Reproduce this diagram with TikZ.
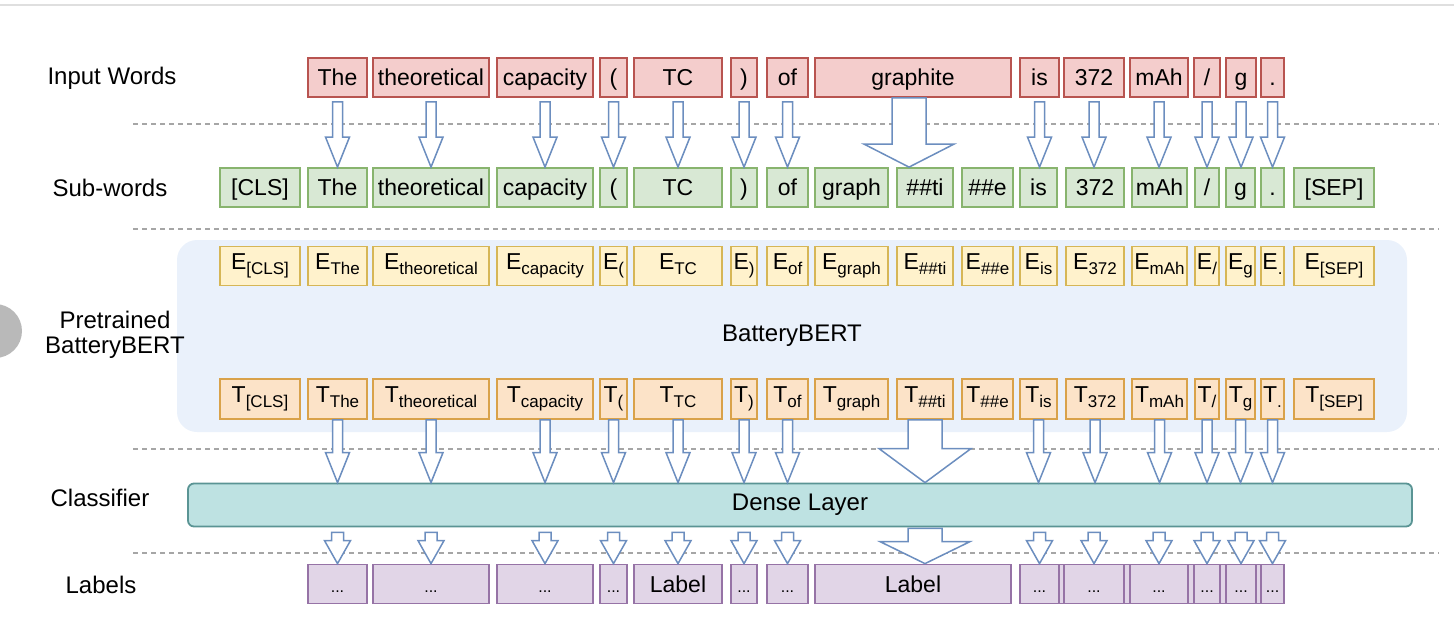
\documentclass[tikz,border=0pt]{standalone}
\usepackage{fontspec}
\setmainfont{Liberation Sans}
\usetikzlibrary{calc}
\usepackage{xcolor}

\definecolor{redfill}{HTML}{F4CDCC}
\definecolor{redline}{HTML}{B85450}
\definecolor{greenfill}{HTML}{D8E8D4}
\definecolor{greenline}{HTML}{88B46E}
\definecolor{yellowfill}{HTML}{FFF2CC}
\definecolor{yellowline}{HTML}{D6B656}
\definecolor{orangefill}{HTML}{FCE3C8}
\definecolor{orangeline}{HTML}{D9A24A}
\definecolor{purplefill}{HTML}{E1D5E7}
\definecolor{purpleline}{HTML}{9673A6}
\definecolor{tealfill}{HTML}{BEE2E2}
\definecolor{tealline}{HTML}{5A9494}
\definecolor{bertfill}{HTML}{EAF1FB}
\definecolor{arrowblue}{HTML}{6C8EBF}

\newcommand{\tsub}[1]{\raisebox{-2.5pt}{\fontsize{8.5}{9}\selectfont #1}}
\newcommand{\lbdots}{{\fontsize{8}{9}\selectfont ...}}

\begin{document}
\begin{tikzpicture}[x=0.5pt, y=-0.5pt,
	wbox/.style={draw, line width=0.9pt, inner sep=0pt, minimum height=19.5pt,
		text height=8.2pt, text depth=0pt, font=\fontsize{11.5}{13}\selectfont},
	inbox/.style={wbox, fill=redfill, draw=redline},
	swbox/.style={wbox, fill=greenfill, draw=greenline},
	ebox/.style={wbox, fill=yellowfill, draw=yellowline, text depth=5pt},
	tbox/.style={wbox, fill=orangefill, draw=orangeline, minimum height=20pt, text depth=5pt},
	lbbox/.style={wbox, fill=purplefill, draw=purpleline},
	rowlabel/.style={font=\fontsize{12}{12.5}\selectfont, align=center},
	sepline/.style={draw=gray!70, line width=0.75pt, dash pattern=on 2.5pt off 2pt},
	blk/.style n args={3}{draw=arrowblue, fill=white, line width=0.75pt,
		to path={let \p1=(\tikztostart), \p2=(\tikztotarget) in
			(\x1-#1,\y1) -- (\x1+#1,\y1) -- (\x1+#1,\y2+#3) -- (\x1+#2,\y2+#3)
			-- (\x1,\y2) -- (\x1-#2,\y2+#3) -- (\x1-#1,\y2+#3) -- cycle}},
	smallarr/.style={blk={2.5pt}{6pt}{15pt}},
	lowarr/.style={blk={3pt}{6.5pt}{11.5pt}}]
	\useasboundingbox (0,0) rectangle (1454,622);
	
	\draw[gray!25, line width=1pt] (0,5) -- (1454,5);
	\fill[gray!55] (-5,331) circle[radius=13.5pt];
	\foreach \y in {124,229,449,553}
		\draw[sepline] (133,\y) -- (1439,\y);
	
	\node[fill=bertfill, rounded corners=10pt, minimum width=615pt, minimum height=96pt,
		font=\fontsize{12}{14}\selectfont] (bert) at (792,336) {BatteryBERT};
	\node[draw=tealline, fill=tealfill, line width=0.9pt, rounded corners=3pt, minimum width=612pt,
		minimum height=21.5pt, font=\fontsize{12}{14}\selectfont] (dense) at (800,505) {Dense Layer};
	
	\node[rowlabel] (lin) at (112,78) {Input Words};
	\node[rowlabel] (lsub) at (110,188) {Sub-words};
	\node[rowlabel] (lbert) at (115,335) {Pretrained\\BatteryBERT};
	\node[rowlabel] (lcls) at (100,498) {Classifier};
	\node[rowlabel] (llab) at (101,585) {Labels};
	
	% sub-words, embeddings, outputs
	\foreach \a/\b/\t [count=\i] in {220/300/[CLS], 308/367/The, 373/489/theoretical,
		497/593/capacity, 600/627/(, 634/722/TC, 731/757/), 767/808/of, 815/888/graph,
		897/953/\#\#ti, 962/1013/\#\#e, 1020/1057/is, 1066/1124/372, 1132/1187/mAh,
		1195/1219/{/}, 1226/1255/g, 1261/1284/., 1294/1374/[SEP]}{
		\node[swbox, minimum width={(\b-\a)*0.5pt}] (sw\i) at ({(\a+\b)/2},187.5) {\t};
		\node[ebox, minimum width={(\b-\a)*0.5pt}] (e\i) at ({(\a+\b)/2},266) {E\tsub{\t}};
		\node[tbox, minimum width={(\b-\a)*0.5pt}] (t\i) at ({(\a+\b)/2},399) {T\tsub{\t}};
	}
	
	% input words and labels
	\node[lbbox, minimum width=132pt] (lbgroup) at (1152,584) {};
	\foreach \a/\b/\w/\l [count=\i] in {308/367/The/\lbdots, 373/489/theoretical/\lbdots,
		497/593/capacity/\lbdots, 600/627/(/\lbdots, 634/722/TC/Label, 731/757/)/\lbdots,
		767/808/of/\lbdots, 815/1011/graphite/Label, 1020/1059/is/\lbdots,
		1064/1124/372/\lbdots, 1130/1188/mAh/\lbdots, 1194/1220/{/}/\lbdots,
		1226/1256/g/\lbdots, 1261/1284/./\lbdots}{
		\node[inbox, minimum width={(\b-\a)*0.5pt}] (in\i) at ({(\a+\b)/2},77.5) {\w};
		\node[lbbox, minimum width={(\b-\a)*0.5pt}] (lb\i) at ({(\a+\b)/2},584) {\l};
	}
	
	% words -> sub-words
	\foreach \i/\j in {1/2,2/3,3/4,4/5,5/6,6/7,7/8,9/12,10/13,11/14,12/15,13/16,14/17}
		\draw[smallarr] ([yshift=-2pt]in\i.south) to (sw\j.north);
	\draw[blk={8.5pt}{22.5pt}{11.5pt}] ([xshift=-2pt]in8.south) to (sw10.north);
	
	% outputs -> dense layer
	\foreach \j in {2,3,4,5,6,7,8,12,13,14,15,16,17}
		\draw[smallarr] (t\j.south) to (t\j.south |- dense.north);
	\draw[blk={8.5pt}{23pt}{17pt}] (t10.south) to (t10.south |- dense.north);
	
	% dense layer -> labels
	\foreach \i in {1,2,3,4,5,6,7,9,10,11,12,13,14}
		\draw[lowarr] ($(lb\i.north |- dense.south)+(0,5)$) to (lb\i.north);
	\draw[blk={8.5pt}{22.5pt}{11pt}] ($(lb8.north |- dense.south)+(12,1)$) to (lb8.north);
\end{tikzpicture}
\end{document}
